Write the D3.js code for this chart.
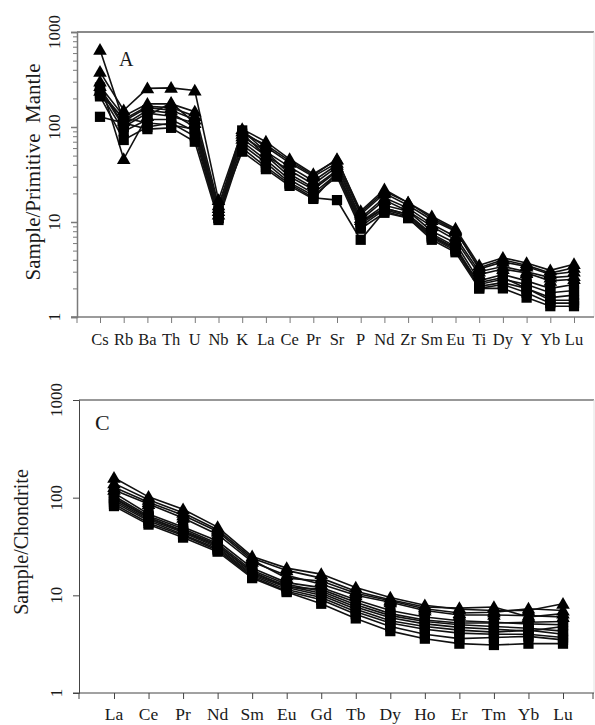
<!DOCTYPE html>
<html>
<head>
<meta charset="utf-8">
<script src="https://cdn.jsdelivr.net/npm/d3@7"></script>
<style>
  html, body { margin: 0; padding: 0; background: #fff; }
  svg { display: block; }
</style>
</head>
<body>
<svg id="chart" width="595" height="725"></svg>
<script>
// ---- Panel A: primitive-mantle normalised trace elements ----
const spiderElements = ["Cs","Rb","Ba","Th","U","Nb","K","La","Ce","Pr","Sr","P","Nd","Zr","Sm","Eu","Ti","Dy","Y","Yb","Lu"];

const spiderTri1 = [650,115,160,150,120,14,95,70,46,32,45,13,22,16,11.5,8.5,3.5,4.2,3.7,3.1,3.6];
const spiderTri2 = [380,150,255,258,242,17,90,62,42,30,42,12,20,15,10.5,8.0,3.3,4.0,3.5,2.9,3.3];
const spiderTri3 = [300,46,130,180,110,12,85,65,44,31,46,12.5,21,16,11,8.2,3.2,3.8,3.4,2.8,3.0];
const spiderTri4 = [270,130,175,175,145,15,80,55,38,27,40,11,18,14,9.5,7.0,3.0,3.4,3.0,2.6,2.7];
const spiderTri5 = [240,120,165,160,130,13,75,50,35,25,38,10.5,17,13,9.0,6.5,2.8,3.2,2.9,2.4,2.5];

const spiderSq1 = [260,105,150,140,100,12,92,55,32,23,35,10,15,13,8.0,6.0,2.4,2.8,2.4,2.0,2.2];
const spiderSq2 = [230,90,120,120,90,11,85,50,30,22,34,9.5,14,12,7.5,5.5,2.2,2.5,2.2,1.8,1.9];
const spiderSq3 = [210,73,100,110,80,11,70,45,28,20,32,9.0,13.5,11.5,7.0,5.2,2.1,2.3,2.0,1.6,1.7];
const spiderSq4 = [128,110,95,98,70,10.5,60,38,25,18,17,6.5,13,11,6.5,4.8,2.0,2.0,1.6,1.3,1.3];
const spiderSq5 = [250,100,140,130,110,12.5,65,42,26,19,30,8.5,12.5,11,6.8,5.0,2.3,2.6,2.0,1.5,1.5];
const spiderSq6 = [220,125,110,105,95,13,55,36,24,17.5,33,10,14,12,7.2,5.3,2.0,2.2,1.8,1.4,1.4];

// ---- Panel C: chondrite normalised REE ----
const reeElements = ["La","Ce","Pr","Nd","Sm","Eu","Gd","Tb","Dy","Ho","Er","Tm","Yb","Lu"];

const reeTri1 = [160,102,76,50,25,19,16.5,12,9.5,7.9,7.2,7.0,7.0,8.2];
const reeTri2 = [140,95,70,47,24,18,15,11,9.0,7.6,7.4,7.6,6.0,6.5];
const reeTri3 = [128,90,66,45,23,15,14,10.5,8.8,7.3,6.6,6.7,7.3,7.0];
const reeTri4 = [120,86,62,42,22,16,13,10,8.5,7.0,6.3,6.3,6.2,6.0];

const reeSq1 = [112,68,50,36,19,13.5,12,9.0,7.0,6.0,5.5,5.3,5.1,5.0];
const reeSq2 = [104,65,48,34,18,13,11,8.0,6.2,5.4,5.0,4.8,4.6,4.3];
const reeSq3 = [98,62,46,33,17,12.5,10.5,7.6,5.9,5.1,4.7,4.5,4.3,4.8];
const reeSq4 = [94,60,44,31,16.5,12,10,7.2,5.5,4.8,4.4,4.2,4.4,4.0];
const reeSq5 = [90,58,42,30,16,11.5,9.5,6.8,5.2,4.5,4.1,4.0,4.0,3.7];
const reeSq6 = [86,55,41,29,15.5,11,9.0,6.4,4.8,4.0,3.6,3.7,3.8,3.5];
const reeSq7 = [82,53,39,28,15,10.8,8.2,5.8,4.3,3.6,3.2,3.1,3.2,3.2];
const reeSq8 = [100,63,45,32,17.5,12.2,11.5,8.5,6.5,5.6,5.2,5.2,5.3,5.4];

const yTickValues = [1, 10, 100, 1000];

const FONT = "'Liberation Serif', 'DejaVu Serif', 'Times New Roman', serif";
const svg = d3.select("#chart");

function drawPanel(cfg) {
  const g = svg.append("g");
  const x = d3.scalePoint().domain(cfg.categories).range([cfg.xFirst, cfg.xLast]);
  const y = d3.scaleLog().domain([1, 1000]).range([cfg.bottom, cfg.top]);

  // frame: top border and faint right border
  g.append("line")
    .attr("x1", cfg.left).attr("x2", cfg.right)
    .attr("y1", cfg.top).attr("y2", cfg.top)
    .attr("stroke", cfg.topStroke).attr("stroke-width", cfg.topWidth);
  g.append("line")
    .attr("x1", cfg.right).attr("x2", cfg.right)
    .attr("y1", cfg.top).attr("y2", cfg.bottom)
    .attr("stroke", "#e2e2e2").attr("stroke-width", 1);

  // y axis (log) with optional minor ticks
  const yAxis = d3.axisLeft(y).tickValues(yTickValues).tickSize(6).tickFormat("");
  const ya = g.append("g").attr("transform", `translate(${cfg.left},0)`).call(yAxis);
  ya.select(".domain").attr("stroke", cfg.axisStroke).attr("stroke-width", cfg.axisWidth);
  ya.selectAll(".tick line").attr("stroke", cfg.axisStroke).attr("stroke-width", cfg.axisWidth);
  if (cfg.minor) {
    const minorVals = [];
    [1, 10, 100].forEach(d => { for (let k = 2; k <= 9; k++) minorVals.push(d * k); });
    const ym = d3.axisLeft(y).tickValues(minorVals).tickSize(4).tickFormat("");
    const ymg = g.append("g").attr("transform", `translate(${cfg.left},0)`).call(ym);
    ymg.select(".domain").remove();
    ymg.selectAll(".tick line").attr("stroke", cfg.axisStroke).attr("stroke-width", 1);
  }

  // y tick labels, rotated
  g.selectAll(".ylab").data(yTickValues).enter().append("text")
    .attr("transform", d => `translate(${cfg.left - 17},${y(d)}) rotate(-90)`)
    .attr("text-anchor", "middle")
    .attr("font-family", FONT).attr("font-size", 17).attr("fill", "#1a1a1a")
    .text(d => d);

  // x axis: line from slightly left of frame to right edge, ticks at frame edge and categories
  g.append("line")
    .attr("x1", cfg.left - 6).attr("x2", cfg.right)
    .attr("y1", cfg.bottom).attr("y2", cfg.bottom)
    .attr("stroke", cfg.axisStroke).attr("stroke-width", cfg.axisWidth);
  const xAxis = d3.axisBottom(x).tickSize(6).tickSizeOuter(0).tickFormat("");
  const xa = g.append("g").attr("transform", `translate(0,${cfg.bottom})`).call(xAxis);
  xa.select(".domain").remove();
  xa.selectAll(".tick line").attr("stroke", cfg.axisStroke).attr("stroke-width", 1);
  g.selectAll(".edgetick").data(cfg.edgeTicks).enter().append("line")
    .attr("x1", d => d).attr("x2", d => d)
    .attr("y1", cfg.bottom).attr("y2", cfg.bottom + 6)
    .attr("stroke", cfg.axisStroke).attr("stroke-width", 1);

  g.selectAll(".xlab").data(cfg.categories).enter().append("text")
    .attr("x", d => x(d)).attr("y", cfg.xLabelY)
    .attr("text-anchor", "middle")
    .attr("font-family", FONT).attr("font-size", cfg.xLabelSize).attr("fill", "#1a1a1a")
    .text(d => d);

  // y title
  g.append("text")
    .attr("transform", `translate(${cfg.titleX},${cfg.titleY}) rotate(-90)`)
    .attr("text-anchor", "middle")
    .attr("font-family", FONT).attr("font-size", cfg.titleSize).attr("fill", "#1a1a1a")
    .attr("xml:space", "preserve")
    .text(cfg.title);

  // panel letter
  g.append("text")
    .attr("x", cfg.letterX).attr("y", cfg.letterY)
    .attr("font-family", FONT).attr("font-size", cfg.letterSize).attr("fill", "#1a1a1a")
    .text(cfg.letter);

  // sample patterns
  const line = d3.line().x((d, i) => x(cfg.categories[i])).y(d => y(d));
  const tri = d3.symbol().type(d3.symbolTriangle).size(80);
  const sq = d3.symbol().type(d3.symbolSquare).size(105);

  cfg.series.forEach(s => {
    g.append("path").attr("d", line(s.values))
      .attr("fill", "none").attr("stroke", "#111").attr("stroke-width", 1.6);
  });
  cfg.series.forEach(s => {
    g.selectAll(null).data(s.values).enter().append("path")
      .attr("d", s.marker === "tri" ? tri : sq)
      .attr("transform", (d, i) => `translate(${x(cfg.categories[i])},${y(d) + (s.marker === "tri" ? 1 : 0)})`)
      .attr("fill", "#000");
  });
}

drawPanel({
  categories: spiderElements,
  xFirst: 100, xLast: 574,
  left: 77, right: 594, top: 32, bottom: 317,
  topStroke: "#8a8a8a", topWidth: 2,
  axisStroke: "#7a7a7a", axisWidth: 1.5,
  minor: true,
  edgeTicks: [77],
  xLabelY: 345, xLabelSize: 16.5,
  title: "Sample/Primitive  Mantle", titleX: 40, titleY: 172, titleSize: 21,
  letter: "A", letterX: 119, letterY: 66, letterSize: 20,
  series: [
    {marker: "sq", values: spiderSq1},
    {marker: "sq", values: spiderSq2},
    {marker: "sq", values: spiderSq3},
    {marker: "sq", values: spiderSq4},
    {marker: "sq", values: spiderSq5},
    {marker: "sq", values: spiderSq6},
    {marker: "tri", values: spiderTri1},
    {marker: "tri", values: spiderTri2},
    {marker: "tri", values: spiderTri3},
    {marker: "tri", values: spiderTri4},
    {marker: "tri", values: spiderTri5}
  ]
});

drawPanel({
  categories: reeElements,
  xFirst: 114, xLast: 563,
  left: 79, right: 594, top: 400, bottom: 693,
  topStroke: "#333", topWidth: 1.2,
  axisStroke: "#444", axisWidth: 1,
  minor: false,
  edgeTicks: [79, 593],
  xLabelY: 720, xLabelSize: 17.5,
  title: "Sample/Chondrite", titleX: 28, titleY: 542, titleSize: 20,
  letter: "C", letterX: 95, letterY: 430, letterSize: 22,
  series: [
    {marker: "sq", values: reeSq1},
    {marker: "sq", values: reeSq2},
    {marker: "sq", values: reeSq3},
    {marker: "sq", values: reeSq4},
    {marker: "sq", values: reeSq5},
    {marker: "sq", values: reeSq6},
    {marker: "sq", values: reeSq7},
    {marker: "sq", values: reeSq8},
    {marker: "tri", values: reeTri1},
    {marker: "tri", values: reeTri2},
    {marker: "tri", values: reeTri3},
    {marker: "tri", values: reeTri4}
  ]
});
</script>
</body>
</html>
